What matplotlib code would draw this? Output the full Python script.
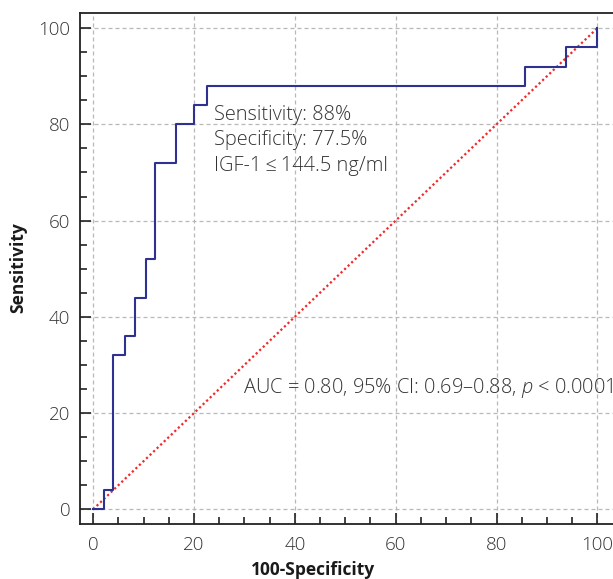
import matplotlib
matplotlib.use("Agg")
import matplotlib.pyplot as plt
from matplotlib.ticker import MultipleLocator

plt.rcParams['font.family'] = ['Open Sans', 'DejaVu Sans']
plt.rcParams['mathtext.fontset'] = 'custom'
plt.rcParams['mathtext.it'] = 'Open Sans:italic:light'
plt.rcParams['mathtext.rm'] = 'Open Sans:light'

# ROC curve vertices (100-Specificity, Sensitivity), drawn as post-steps
fpr = [0, 2.2, 4.0, 6.3, 8.4, 10.4, 12.3, 16.5, 20.0, 22.5, 85.6, 93.7, 100]
tpr = [0, 4, 32, 36, 44, 52, 72, 80, 84, 88, 92, 96, 100]
ref_line = [0, 100]

xticks = [0, 20, 40, 60, 80, 100]
yticks = [0, 20, 40, 60, 80, 100]

info_lines = ["Sensitivity: 88%", "Specificity: 77.5%", "IGF-1\u2009\u2264\u2009144.5 ng/ml"]
auc_text = "AUC = 0.80, 95% CI: 0.69\u20130.88, $p$ < 0.0001"

W, H = 613, 579
fig = plt.figure(figsize=(W / 100, H / 100), dpi=100)
ax = fig.add_axes([80 / W, (579 - 524) / H, 1 - 80 / W, (524 - 12.7) / H])

text_col = '#333333'
ax.set_xlim(-2.6, 103.1)
ax.set_ylim(-3.05, 103.2)

ax.grid(True, which='major', color='#b8b8b8', linestyle=(0, (3.2, 2.4)), linewidth=0.9)
ax.set_axisbelow(True)

ax.plot(ref_line, ref_line, color='#f02a2a', linestyle=(0, (1, 1.2)), linewidth=1.6, zorder=3)
ax.plot(fpr, tpr, drawstyle='steps-post', color='#2e318f', linewidth=1.5, zorder=4)

ax.set_xticks(xticks)
ax.set_yticks(yticks)
ax.xaxis.set_minor_locator(MultipleLocator(5))
ax.yaxis.set_minor_locator(MultipleLocator(5))
ax.tick_params(which='major', direction='in', length=8, width=1.2, color='#222222',
               labelsize=13.5, labelcolor=text_col)
ax.tick_params(axis='y', which='major', pad=7)
ax.tick_params(axis='x', which='major', pad=9)
ax.tick_params(which='minor', direction='in', length=5, width=1.2, color='#222222')
ax.tick_params(top=False, right=False, which='both')
for lab in ax.get_xticklabels() + ax.get_yticklabels():
    lab.set_fontweight('light')

for s in ['left', 'bottom', 'top']:
    ax.spines[s].set_linewidth(1.3)
    ax.spines[s].set_color('#222222')
ax.spines['right'].set_visible(False)

# annotation lines
ys = [80.9, 75.7, 70.3]
for t, yy in zip(info_lines, ys):
    ax.text(23.9, yy, t, fontsize=14.4, color=text_col, va='baseline', ha='left',
            fontweight='light', zorder=5)

ax.text(29.7, 24.1, auc_text, fontsize=14.4, color=text_col, va='baseline', ha='left',
        fontweight='light', zorder=5)

fig.text(313 / W, 1 - 570 / H, "100-Specificity", fontsize=12.5, fontweight='bold',
         color='#1a1a1a', ha='center', va='center')
fig.text(18 / W, 1 - 268 / H, "Sensitivity", fontsize=12.5, fontweight='bold',
         color='#1a1a1a', ha='center', va='center', rotation=90)

fig.savefig("out.png", dpi=100)
